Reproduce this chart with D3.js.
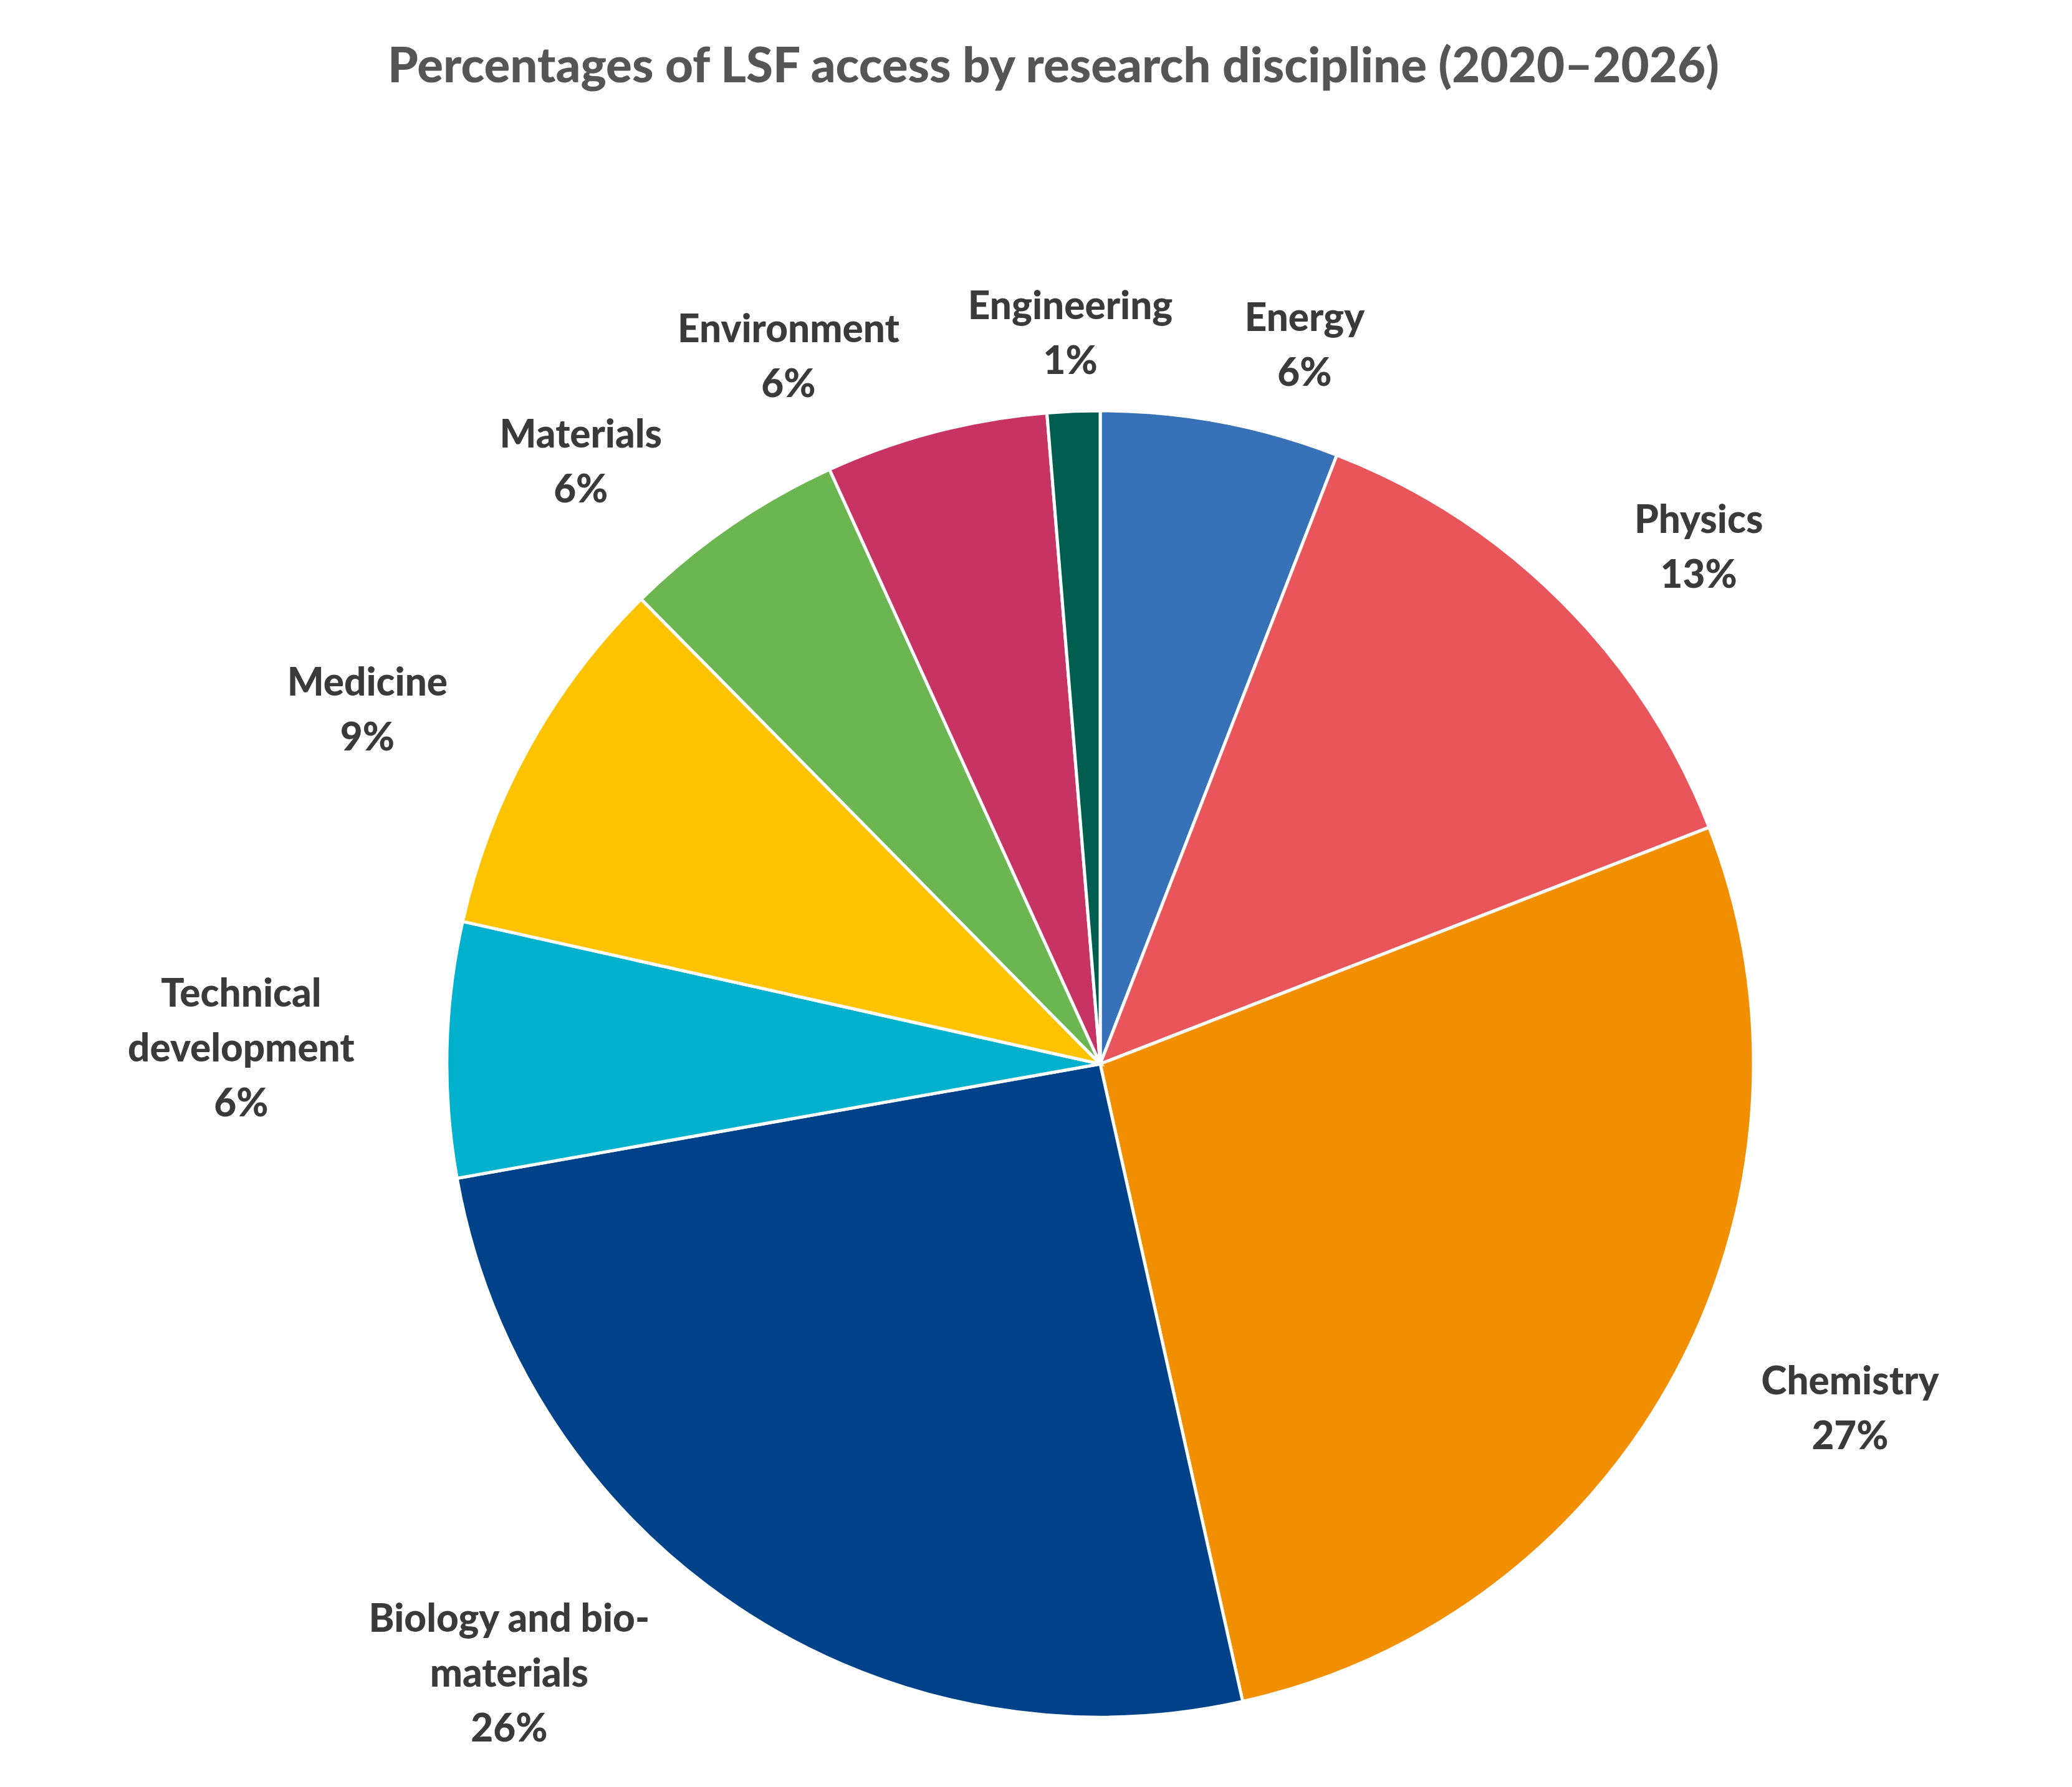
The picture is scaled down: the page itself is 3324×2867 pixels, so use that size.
<!DOCTYPE html>
<html>
<head>
<meta charset="utf-8">
<script src="https://cdn.jsdelivr.net/npm/d3@7"></script>
<style>
  body { margin: 0; background: #fff; }
  text { font-family: "Lato", "DejaVu Sans", sans-serif; font-weight: 900; }
</style>
</head>
<body>
<svg id="chart"></svg>
<script>
const categories = ["Energy", "Physics", "Chemistry", "Biology and bio-\nmaterials", "Technical\ndevelopment", "Medicine", "Materials", "Environment", "Engineering"];
const values = [5.9, 13.2, 27.4, 25.7, 6.3, 9.1, 5.6, 5.5, 1.3];
const colors = ["#3771b8", "#e8565c", "#f28f00", "#00428a", "#00b1cd", "#fdc300", "#6cb651", "#c73464", "#005e50"];

const width = 3324, height = 2867;
const cx = 1765, cy = 1707, r = 1048;

const svg = d3.select("#chart").attr("width", width).attr("height", height);

svg.append("text")
    .attr("x", 1690).attr("y", 132)
    .attr("text-anchor", "middle")
    .attr("font-size", 78)
    .attr("fill", "#555")
    .text("Percentages of LSF access by research discipline (2020–2026)");

const data = categories.map((c, i) => ({ name: c, value: values[i], color: colors[i] }));
const pie = d3.pie().value(d => d.value).sort(null);
const arc = d3.arc().innerRadius(0).outerRadius(r);
const arcs = pie(data);

const g = svg.append("g").attr("transform", `translate(${cx},${cy})`);

g.selectAll("path")
    .data(arcs)
    .enter()
    .append("path")
    .attr("d", arc)
    .attr("fill", d => d.data.color)
    .attr("stroke", "#fff")
    .attr("stroke-width", 5);

const lineH = 88, fs = 62;
arcs.forEach(a => {
    const mid = (a.startAngle + a.endAngle) / 2;
    const x = Math.sin(mid) * r * 1.12;
    const y = -Math.cos(mid) * r * 1.12;
    const lines = a.data.name.split("\n").concat([Math.round(a.data.value) + "%"]);
    // estimate block width to mimic left/right alignment while keeping lines centred
    const w = d3.max(lines, l => l.length) * fs * 0.6;
    let tx = x;
    if (Math.abs(Math.sin(mid)) > 0.1) tx = x + Math.sign(Math.sin(mid)) * w / 2;
    const t = g.append("text")
        .attr("text-anchor", "middle")
        .attr("font-size", fs)
        .attr("fill", "#3a3a3a");
    lines.forEach((l, i) => {
        t.append("tspan")
            .attr("x", tx)
            .attr("y", y + (i - (lines.length - 1) / 2) * lineH + fs * 0.35)
            .text(l);
    });
});
</script>
</body>
</html>
